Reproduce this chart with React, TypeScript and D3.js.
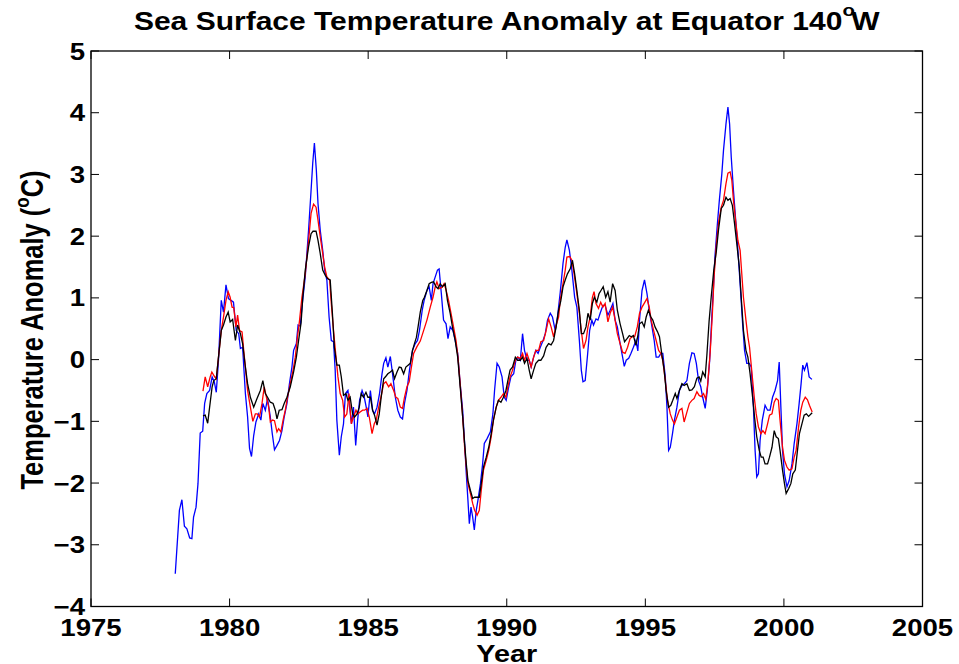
import * as d3 from "d3";

// [year, anomaly °C]
const rawSst: [number, number][] = [
  [1978.04, -3.47], [1978.19, -2.44], [1978.28, -2.27], [1978.37, -2.7], [1978.46, -2.74],
  [1978.56, -2.89], [1978.64, -2.9], [1978.7, -2.55], [1978.79, -2.39], [1978.86, -2.01],
  [1978.94, -1.19], [1979.03, -1.16], [1979.1, -0.71], [1979.18, -0.55], [1979.28, -0.5],
  [1979.37, -0.28], [1979.45, -0.36], [1979.52, -0.53], [1979.6, -0.01], [1979.7, 0.96],
  [1979.78, 0.77], [1979.87, 1.21], [1979.96, 0.99], [1980.05, 0.96], [1980.14, 0.93],
  [1980.24, 0.47], [1980.33, 0.42], [1980.39, 0.18], [1980.47, 0.2], [1980.57, -0.55],
  [1980.65, -0.93], [1980.72, -1.44], [1980.79, -1.57], [1980.87, -1.23], [1980.95, -1.01],
  [1981.05, -0.88], [1981.13, -0.98], [1981.2, -0.71], [1981.29, -0.82], [1981.37, -0.63],
  [1981.47, -0.93], [1981.54, -1.2], [1981.62, -1.46], [1981.71, -1.39], [1981.8, -1.31],
  [1981.89, -1.15], [1981.97, -0.93], [1982.07, -0.71], [1982.16, -0.39], [1982.25, -0.12],
  [1982.31, 0.15], [1982.41, 0.26], [1982.47, 0.56], [1982.55, 0.54], [1982.61, 0.85],
  [1982.73, 1.34], [1982.85, 2.1], [1982.94, 2.74], [1983.0, 3.18], [1983.06, 3.51],
  [1983.13, 3.07], [1983.19, 2.53], [1983.27, 2.1], [1983.36, 1.77], [1983.43, 1.45],
  [1983.51, 1.29], [1983.59, 0.69], [1983.67, 0.31], [1983.75, 0.29], [1983.81, -0.17],
  [1983.87, -0.98], [1983.96, -1.55], [1984.03, -1.25], [1984.11, -1.04], [1984.18, -0.55],
  [1984.27, -0.5], [1984.33, -0.77], [1984.4, -1.04], [1984.47, -0.77], [1984.55, -1.39],
  [1984.62, -0.98], [1984.69, -0.66], [1984.78, -0.5], [1984.86, -0.61], [1984.93, -0.77],
  [1984.99, -0.93], [1985.08, -0.5], [1985.16, -0.82], [1985.23, -0.88], [1985.32, -0.77],
  [1985.41, -0.55], [1985.5, -0.23], [1985.56, -0.06], [1985.64, 0.03], [1985.71, -0.12],
  [1985.8, 0.05], [1985.88, -0.23], [1985.98, -0.61], [1986.07, -0.82], [1986.16, -0.93],
  [1986.24, -0.96], [1986.31, -0.71], [1986.4, -0.5], [1986.49, -0.17], [1986.6, 0.15],
  [1986.7, 0.26], [1986.78, 0.31], [1986.85, 0.47], [1986.95, 0.8], [1987.02, 0.96],
  [1987.12, 1.12], [1987.2, 1.18], [1987.28, 0.96], [1987.34, 1.23], [1987.42, 1.34],
  [1987.5, 1.45], [1987.56, 1.47], [1987.64, 1.07], [1987.72, 0.64], [1987.81, 0.58],
  [1987.88, 0.34], [1987.96, 0.53], [1988.06, 0.47], [1988.14, 0.31], [1988.23, 0.1],
  [1988.32, -0.39], [1988.41, -0.82], [1988.48, -1.36], [1988.54, -1.85], [1988.6, -2.28],
  [1988.65, -2.66], [1988.71, -2.39], [1988.77, -2.55], [1988.83, -2.76], [1988.9, -2.44],
  [1988.96, -2.28], [1989.05, -2.01], [1989.13, -1.69], [1989.19, -1.36], [1989.29, -1.28],
  [1989.41, -1.17], [1989.5, -0.88], [1989.56, -0.5], [1989.65, -0.06], [1989.73, -0.12],
  [1989.83, -0.28], [1989.91, -0.61], [1989.98, -0.66], [1990.07, -0.44], [1990.15, -0.28],
  [1990.25, -0.23], [1990.33, -0.01], [1990.4, 0.04], [1990.49, -0.01], [1990.57, 0.42],
  [1990.64, 0.15], [1990.73, -0.01], [1990.81, -0.01], [1990.88, -0.12], [1990.97, 0.04],
  [1991.05, 0.15], [1991.13, 0.1], [1991.21, 0.2], [1991.31, 0.31], [1991.39, 0.42],
  [1991.47, 0.64], [1991.57, 0.75], [1991.65, 0.69], [1991.75, 0.47], [1991.83, 0.69],
  [1991.93, 1.09], [1992.03, 1.56], [1992.11, 1.82], [1992.17, 1.94], [1992.26, 1.77],
  [1992.35, 1.45], [1992.45, 1.01], [1992.53, 0.85], [1992.62, 0.31], [1992.69, -0.17],
  [1992.75, -0.36], [1992.83, -0.34], [1992.92, 0.1], [1992.99, 0.47], [1993.07, 0.64],
  [1993.13, 0.56], [1993.22, 0.66], [1993.29, 0.64], [1993.37, 0.75], [1993.47, 0.88],
  [1993.55, 0.88], [1993.65, 0.72], [1993.73, 0.8], [1993.83, 0.91], [1993.91, 0.64],
  [1993.99, 0.53], [1994.09, 0.26], [1994.18, 0.04], [1994.24, -0.11], [1994.31, -0.01],
  [1994.4, 0.02], [1994.48, 0.1], [1994.57, 0.2], [1994.66, 0.31], [1994.73, 0.14],
  [1994.79, 0.64], [1994.88, 1.12], [1994.97, 1.29], [1995.06, 1.07], [1995.14, 0.8],
  [1995.24, 0.53], [1995.32, 0.31], [1995.39, 0.04], [1995.48, 0.04], [1995.56, 0.1],
  [1995.63, 0.1], [1995.72, -0.28], [1995.78, -0.77], [1995.84, -1.47], [1995.9, -1.42],
  [1995.98, -1.2], [1996.05, -0.98], [1996.14, -0.77], [1996.23, -0.5], [1996.32, -0.42],
  [1996.41, -0.39], [1996.5, -0.34], [1996.59, -0.06], [1996.68, 0.11], [1996.76, 0.1],
  [1996.84, -0.06], [1996.92, -0.34], [1997.0, -0.44], [1997.07, -0.61], [1997.16, -0.79],
  [1997.23, -0.52], [1997.32, -0.02], [1997.4, 0.7], [1997.46, 1.18], [1997.51, 1.66],
  [1997.6, 2.2], [1997.67, 2.58], [1997.76, 3.01], [1997.82, 3.39], [1997.91, 3.82],
  [1997.98, 4.09], [1998.04, 3.82], [1998.1, 3.28], [1998.18, 2.74], [1998.27, 2.2],
  [1998.34, 1.77], [1998.42, 1.23], [1998.51, 0.58], [1998.58, 0.15], [1998.66, -0.06],
  [1998.75, -0.06], [1998.82, -0.12], [1998.9, -0.77], [1998.96, -1.47], [1999.02, -1.9],
  [1999.08, -1.85], [1999.14, -1.31], [1999.22, -0.98], [1999.32, -0.74], [1999.41, -0.82],
  [1999.5, -0.82], [1999.59, -0.61], [1999.68, -0.5], [1999.77, -0.34], [1999.83, -0.04],
  [1999.89, -0.77], [1999.95, -1.47], [2000.02, -1.85], [2000.11, -2.06], [2000.19, -1.96],
  [2000.29, -1.69], [2000.37, -1.36], [2000.47, -1.04], [2000.55, -0.71], [2000.62, -0.39],
  [2000.68, -0.09], [2000.74, -0.17], [2000.83, -0.05], [2000.91, -0.28], [2001.01, -0.32],
];

const redSeries: [number, number][] = [
  [1979.04, -0.51], [1979.12, -0.28], [1979.21, -0.44], [1979.3, -0.28], [1979.36, -0.2],
  [1979.45, -0.27], [1979.52, -0.31], [1979.6, 0.04], [1979.7, 0.47], [1979.78, 0.69],
  [1979.87, 0.96], [1979.95, 1.1], [1980.02, 1.01], [1980.09, 0.85], [1980.15, 0.84],
  [1980.23, 0.53], [1980.29, 0.72], [1980.36, 0.47], [1980.45, 0.45], [1980.51, 0.15],
  [1980.58, -0.17], [1980.65, -0.5], [1980.75, -0.77], [1980.84, -1.0], [1980.93, -0.88],
  [1981.0, -0.88], [1981.08, -0.93], [1981.17, -0.71], [1981.25, -0.44], [1981.33, -0.61],
  [1981.41, -0.77], [1981.47, -1.01], [1981.55, -0.98], [1981.62, -0.99], [1981.71, -1.17],
  [1981.77, -1.12], [1981.85, -1.17], [1981.93, -0.98], [1982.01, -0.82], [1982.09, -0.61],
  [1982.19, -0.39], [1982.29, -0.17], [1982.37, 0.04], [1982.45, 0.37], [1982.52, 0.62],
  [1982.61, 1.01], [1982.73, 1.39], [1982.85, 1.93], [1982.94, 2.37], [1983.03, 2.52],
  [1983.12, 2.47], [1983.19, 2.26], [1983.27, 1.99], [1983.36, 1.72], [1983.43, 1.5],
  [1983.51, 1.34], [1983.61, 1.29], [1983.67, 0.91], [1983.75, 0.47], [1983.84, 0.04],
  [1983.91, -0.28], [1983.99, -0.55], [1984.08, -0.66], [1984.15, -0.93], [1984.23, -0.88],
  [1984.31, -0.55], [1984.39, -1.04], [1984.47, -0.93], [1984.56, -0.82], [1984.63, -0.88],
  [1984.71, -0.85], [1984.8, -0.82], [1984.87, -0.82], [1984.96, -0.79], [1985.04, -0.93],
  [1985.14, -1.2], [1985.22, -1.04], [1985.29, -0.98], [1985.38, -0.77], [1985.46, -0.61],
  [1985.56, -0.39], [1985.64, -0.36], [1985.74, -0.44], [1985.82, -0.39], [1985.92, -0.5],
  [1986.0, -0.61], [1986.07, -0.63], [1986.16, -0.77], [1986.24, -0.79], [1986.31, -0.61],
  [1986.4, -0.44], [1986.48, -0.36], [1986.55, -0.15], [1986.64, 0.1], [1986.76, 0.21],
  [1986.88, 0.3], [1987.0, 0.47], [1987.12, 0.64], [1987.24, 0.85], [1987.34, 1.01],
  [1987.42, 1.18], [1987.48, 1.26], [1987.56, 1.15], [1987.66, 1.17], [1987.74, 1.23],
  [1987.81, 1.13], [1987.9, 0.96], [1987.99, 0.75], [1988.08, 0.53], [1988.17, 0.31],
  [1988.24, 0.04], [1988.32, -0.39], [1988.41, -0.93], [1988.48, -1.42], [1988.54, -1.74],
  [1988.6, -2.01], [1988.69, -2.17], [1988.77, -2.33], [1988.84, -2.44], [1988.93, -2.52],
  [1989.01, -2.44], [1989.08, -2.12], [1989.16, -1.79], [1989.26, -1.63], [1989.35, -1.47],
  [1989.44, -1.25], [1989.52, -0.98], [1989.62, -0.77], [1989.7, -0.66], [1989.79, -0.61],
  [1989.88, -0.55], [1989.97, -0.61], [1990.04, -0.44], [1990.12, -0.28], [1990.21, -0.17],
  [1990.31, -0.01], [1990.39, 0.04], [1990.49, 0.02], [1990.57, 0.1], [1990.64, -0.01],
  [1990.73, 0.1], [1990.81, -0.01], [1990.88, -0.12], [1990.97, 0.04], [1991.05, 0.15],
  [1991.15, 0.15], [1991.23, 0.29], [1991.33, 0.31], [1991.42, 0.47], [1991.51, 0.66],
  [1991.6, 0.53], [1991.69, 0.37], [1991.78, 0.55], [1991.87, 0.69], [1991.93, 0.96],
  [1992.03, 1.23], [1992.11, 1.45], [1992.17, 1.66], [1992.27, 1.67], [1992.35, 1.61],
  [1992.43, 1.39], [1992.53, 1.07], [1992.62, 0.75], [1992.69, 0.47], [1992.77, 0.18],
  [1992.86, 0.31], [1992.93, 0.53], [1993.01, 0.69], [1993.09, 1.01], [1993.15, 1.1],
  [1993.22, 0.91], [1993.31, 0.83], [1993.39, 0.93], [1993.47, 0.85], [1993.55, 0.91],
  [1993.65, 0.61], [1993.73, 0.75], [1993.82, 0.85], [1993.91, 0.64], [1993.99, 0.42],
  [1994.09, 0.26], [1994.18, 0.12], [1994.27, 0.1], [1994.36, 0.2], [1994.45, 0.34],
  [1994.53, 0.37], [1994.62, 0.38], [1994.71, 0.53], [1994.79, 0.75], [1994.88, 0.85],
  [1994.97, 0.92], [1995.06, 0.99], [1995.14, 0.85], [1995.21, 0.64], [1995.3, 0.47],
  [1995.39, 0.31], [1995.48, 0.15], [1995.56, 0.1], [1995.63, -0.01], [1995.72, -0.34],
  [1995.8, -0.66], [1995.9, -0.88], [1995.98, -0.98], [1996.05, -1.04], [1996.14, -0.93],
  [1996.23, -0.82], [1996.32, -0.79], [1996.4, -1.01], [1996.5, -0.85], [1996.59, -0.71],
  [1996.68, -0.66], [1996.76, -0.63], [1996.86, -0.52], [1996.94, -0.58], [1997.02, -0.6],
  [1997.1, -0.55], [1997.18, -0.64], [1997.25, -0.4], [1997.34, 0.12], [1997.42, 0.75],
  [1997.48, 1.34], [1997.56, 1.85], [1997.65, 2.25], [1997.74, 2.47], [1997.82, 2.58],
  [1997.91, 2.85], [1997.98, 3.02], [1998.06, 3.04], [1998.12, 2.91], [1998.18, 2.58],
  [1998.27, 2.2], [1998.34, 1.93], [1998.42, 1.77], [1998.48, 1.39], [1998.54, 1.01],
  [1998.63, 0.64], [1998.7, 0.37], [1998.76, 0.2], [1998.85, -0.23], [1998.93, -0.61],
  [1999.0, -0.88], [1999.08, -1.09], [1999.17, -1.2], [1999.24, -1.15], [1999.32, -1.2],
  [1999.41, -1.04], [1999.48, -0.9], [1999.57, -0.88], [1999.65, -0.69], [1999.72, -0.63],
  [1999.8, -0.66], [1999.86, -0.98], [1999.95, -1.42], [2000.02, -1.63], [2000.11, -1.74],
  [2000.19, -1.79], [2000.29, -1.77], [2000.37, -1.58], [2000.44, -1.47], [2000.53, -1.09],
  [2000.61, -0.82], [2000.68, -0.69], [2000.77, -0.61], [2000.85, -0.65], [2000.92, -0.74],
  [2001.02, -0.85],
];

const blackSeries: [number, number][] = [
  [1979.04, -0.91], [1979.12, -0.9], [1979.21, -1.03], [1979.28, -0.77], [1979.37, -0.44],
  [1979.43, -0.34], [1979.52, -0.31], [1979.6, 0.04], [1979.7, 0.47], [1979.78, 0.56],
  [1979.87, 0.69], [1979.95, 0.77], [1980.02, 0.61], [1980.11, 0.65], [1980.21, 0.31],
  [1980.29, 0.56], [1980.39, 0.42], [1980.47, 0.26], [1980.57, -0.12], [1980.65, -0.39],
  [1980.75, -0.61], [1980.87, -0.77], [1980.99, -0.63], [1981.11, -0.5], [1981.2, -0.34],
  [1981.29, -0.55], [1981.37, -0.61], [1981.47, -0.69], [1981.57, -0.71], [1981.65, -0.82],
  [1981.71, -0.96], [1981.79, -0.82], [1981.89, -0.81], [1981.97, -0.71], [1982.07, -0.61],
  [1982.19, -0.44], [1982.31, -0.2], [1982.41, 0.04], [1982.49, 0.31], [1982.58, 0.6],
  [1982.64, 1.0], [1982.73, 1.45], [1982.85, 1.83], [1982.94, 2.04], [1983.01, 2.08],
  [1983.12, 2.08], [1983.19, 1.93], [1983.27, 1.72], [1983.36, 1.45], [1983.45, 1.37],
  [1983.54, 1.31], [1983.63, 1.29], [1983.71, 0.75], [1983.78, 0.2], [1983.87, -0.09],
  [1983.96, -0.09], [1984.03, -0.28], [1984.11, -0.58], [1984.2, -0.55], [1984.27, -0.66],
  [1984.35, -0.61], [1984.44, -0.88], [1984.51, -0.93], [1984.6, -0.88], [1984.68, -0.77],
  [1984.75, -0.55], [1984.83, -0.61], [1984.92, -0.53], [1984.99, -0.61], [1985.08, -0.61],
  [1985.16, -0.82], [1985.23, -0.9], [1985.32, -1.06], [1985.4, -0.88], [1985.47, -0.61],
  [1985.56, -0.31], [1985.64, -0.27], [1985.71, -0.23], [1985.8, -0.2], [1985.88, -0.17],
  [1985.95, -0.31], [1986.04, -0.2], [1986.12, -0.12], [1986.19, -0.13], [1986.28, -0.23],
  [1986.36, -0.12], [1986.44, -0.09], [1986.52, -0.06], [1986.6, 0.15], [1986.67, 0.26],
  [1986.74, 0.36], [1986.8, 0.53], [1986.88, 0.77], [1986.97, 0.96], [1987.03, 1.01],
  [1987.12, 1.12], [1987.2, 1.23], [1987.28, 1.25], [1987.36, 1.26], [1987.45, 1.18],
  [1987.52, 1.15], [1987.6, 1.23], [1987.68, 1.18], [1987.78, 1.23], [1987.86, 0.96],
  [1987.96, 0.75], [1988.04, 0.53], [1988.14, 0.31], [1988.23, 0.04], [1988.32, -0.44],
  [1988.41, -0.93], [1988.48, -1.36], [1988.54, -1.69], [1988.6, -1.96], [1988.69, -2.12],
  [1988.77, -2.25], [1988.84, -2.23], [1988.93, -2.23], [1989.01, -2.23], [1989.08, -2.01],
  [1989.16, -1.74], [1989.26, -1.58], [1989.35, -1.42], [1989.44, -1.2], [1989.52, -0.98],
  [1989.62, -0.77], [1989.7, -0.66], [1989.79, -0.69], [1989.88, -0.61], [1989.97, -0.5],
  [1990.04, -0.34], [1990.12, -0.17], [1990.21, -0.12], [1990.31, 0.04], [1990.39, -0.01],
  [1990.49, -0.01], [1990.57, 0.04], [1990.64, -0.06], [1990.73, 0.02], [1990.81, -0.17],
  [1990.88, -0.31], [1990.97, -0.17], [1991.05, -0.06], [1991.15, -0.01], [1991.23, -0.01],
  [1991.33, 0.06], [1991.42, 0.2], [1991.51, 0.26], [1991.6, 0.24], [1991.69, 0.31],
  [1991.78, 0.53], [1991.87, 0.8], [1991.95, 0.95], [1992.03, 1.18], [1992.11, 1.29],
  [1992.19, 1.39], [1992.29, 1.47], [1992.37, 1.61], [1992.45, 1.39], [1992.53, 1.12],
  [1992.62, 0.8], [1992.69, 0.42], [1992.77, 0.42], [1992.86, 0.53], [1992.93, 0.75],
  [1993.01, 0.64], [1993.09, 0.91], [1993.16, 1.01], [1993.25, 0.93], [1993.33, 1.07],
  [1993.4, 1.12], [1993.48, 1.18], [1993.57, 1.01], [1993.65, 1.1], [1993.73, 0.93],
  [1993.82, 1.23], [1993.91, 1.12], [1993.99, 0.8], [1994.09, 0.58], [1994.18, 0.42],
  [1994.25, 0.29], [1994.34, 0.34], [1994.42, 0.39], [1994.49, 0.37], [1994.57, 0.39],
  [1994.66, 0.23], [1994.73, 0.39], [1994.79, 0.58], [1994.88, 0.61], [1994.96, 0.53],
  [1995.03, 0.69], [1995.11, 0.8], [1995.2, 0.69], [1995.27, 0.64], [1995.35, 0.53],
  [1995.44, 0.45], [1995.51, 0.37], [1995.59, 0.1], [1995.68, -0.17], [1995.75, -0.5],
  [1995.84, -0.77], [1995.92, -0.74], [1995.99, -0.66], [1996.08, -0.55], [1996.14, -0.63],
  [1996.23, -0.5], [1996.32, -0.39], [1996.4, -0.42], [1996.5, -0.39], [1996.59, -0.5],
  [1996.68, -0.49], [1996.77, -0.44], [1996.86, -0.3], [1996.94, -0.28], [1997.0, -0.35],
  [1997.07, -0.2], [1997.16, -0.28], [1997.22, 0.07], [1997.3, 0.62], [1997.38, 1.03],
  [1997.47, 1.45], [1997.56, 1.75], [1997.64, 2.1], [1997.74, 2.45], [1997.82, 2.5],
  [1997.91, 2.63], [1997.98, 2.58], [1998.06, 2.61], [1998.14, 2.5], [1998.22, 2.2],
  [1998.3, 1.88], [1998.39, 1.5], [1998.46, 1.01], [1998.54, 0.47], [1998.63, 0.15],
  [1998.7, 0.04], [1998.78, -0.23], [1998.87, -0.61], [1998.94, -0.93], [1999.02, -1.25],
  [1999.11, -1.47], [1999.18, -1.58], [1999.25, -1.58], [1999.32, -1.69], [1999.41, -1.69],
  [1999.48, -1.58], [1999.57, -1.42], [1999.65, -1.15], [1999.72, -1.25], [1999.8, -1.28],
  [1999.86, -1.47], [1999.95, -1.79], [2000.02, -2.01], [2000.08, -2.17], [2000.17, -2.09],
  [2000.25, -2.01], [2000.32, -1.85], [2000.41, -1.79], [2000.49, -1.47], [2000.56, -1.2],
  [2000.65, -1.04], [2000.73, -0.9], [2000.81, -0.88], [2000.89, -0.92], [2001.02, -0.86],
];

const xTicks = [1975, 1980, 1985, 1990, 1995, 2000, 2005];
const yTicks = [-4, -3, -2, -1, 0, 1, 2, 3, 4, 5];

const W = 959;
const H = 664;
const left = 91;
const right = 922.5;
const top = 51;
const bottom = 606.5;
const TICK = 8;
// the reference looks stretched sideways, so text gets the same squeeze
const SX = 1.2;
const FONT = "'Liberation Sans', Arial, Helvetica, sans-serif";

function fmt(v: number) {
  return v < 0 ? "\u2212" + Math.abs(v) : String(v);
}

export default function App() {
  const x = d3.scaleLinear().domain([1975, 2005]).range([left, right]);
  const y = d3.scaleLinear().domain([-4, 5]).range([bottom, top]);
  const line = d3
    .line<[number, number]>()
    .x((d) => x(d[0]))
    .y((d) => y(d[1]));

  const series = [
    { data: rawSst, color: "#0000ff" },
    { data: redSeries, color: "#ff0000" },
    { data: blackSeries, color: "#000000" },
  ];

  return (
    <svg
      width={W}
      height={H}
      style={{ position: "absolute", left: 0, top: 0, background: "#fff" }}
      fontFamily={FONT}
      fontWeight="bold"
    >
      <rect width={W} height={H} fill="#fff" />

      {series.map((s, i) => (
        <path key={i} d={line(s.data) ?? ""} fill="none" stroke={s.color} strokeWidth={1.3} />
      ))}

      {/* box with inward ticks on all four sides */}
      <rect x={left} y={top} width={right - left} height={bottom - top} fill="none" stroke="#000" strokeWidth={1.3} />
      {xTicks.map((t) => (
        <g key={"x" + t}>
          <line x1={x(t)} x2={x(t)} y1={bottom} y2={bottom - TICK} stroke="#000" strokeWidth={1} />
          <line x1={x(t)} x2={x(t)} y1={top} y2={top + TICK} stroke="#000" strokeWidth={1} />
          <text transform={`translate(${x(t)},${636}) scale(${SX},1)`} textAnchor="middle" fontSize={23}>
            {t}
          </text>
        </g>
      ))}
      {yTicks.map((t) => (
        <g key={"y" + t}>
          <line x1={left} x2={left + TICK} y1={y(t)} y2={y(t)} stroke="#000" strokeWidth={1} />
          <line x1={right} x2={right - TICK} y1={y(t)} y2={y(t)} stroke="#000" strokeWidth={1} />
          <text transform={`translate(${85},${y(t) + 8.5}) scale(${SX},1)`} textAnchor="end" fontSize={23}>
            {fmt(t)}
          </text>
        </g>
      ))}

      <text transform={`translate(${(left + right) / 2},${30}) scale(${SX},1)`} textAnchor="middle" fontSize={25}>
        Sea Surface Temperature Anomaly at Equator 140
        <tspan fontSize={17} dy={-14}>o</tspan>
        <tspan dy={14} dx={-3}>W</tspan>
      </text>

      <text transform={`translate(${(left + right) / 2},${662}) scale(${SX},1)`} textAnchor="middle" fontSize={24}>
        Year
      </text>

      <text transform={`translate(${43},${330}) scale(${SX},1) rotate(-90)`} textAnchor="middle" fontSize={25.5}>
        Temperature Anomaly (
        <tspan fontSize={17} dy={-12}>o</tspan>
        <tspan dy={12}>C)</tspan>
      </text>
    </svg>
  );
}
